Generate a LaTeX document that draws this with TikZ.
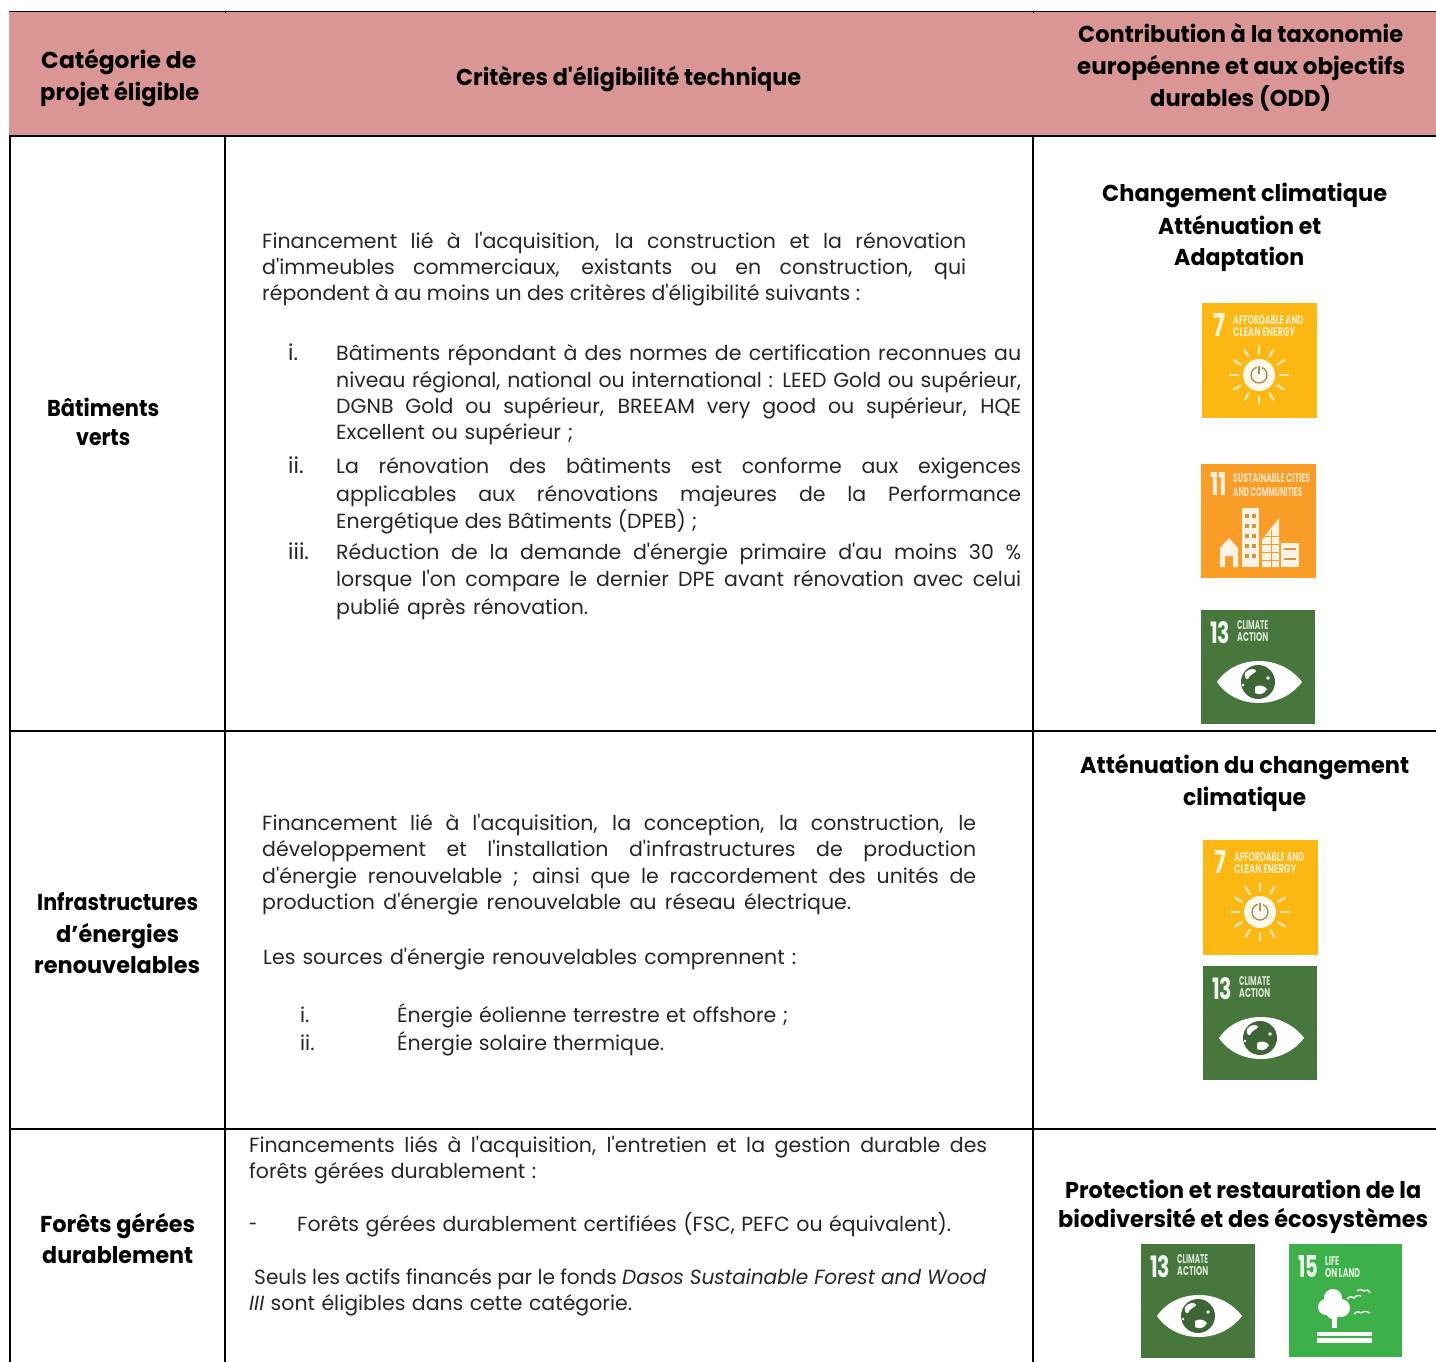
\documentclass[tikz,border=0pt]{standalone}
\usepackage{fontspec}
\usepackage{graphicx}
\defaultfontfeatures[\rmfamily]{}
\setmainfont{Poppins}
\definecolor{headfill}{HTML}{D99694}
\definecolor{bodycol}{HTML}{262626}
\definecolor{sdgseven}{HTML}{FDB713}
\definecolor{sdgeleven}{HTML}{F99D26}
\definecolor{sdgthirteen}{HTML}{48773E}
\definecolor{sdgfifteen}{HTML}{3EB049}
\newsavebox\fitb
\newcounter{tn}
\newcommand\bodyfont{\fontsize{20.5}{24}\selectfont}
\newcommand\headfont{\fontsize{23}{28}\selectfont\bfseries}
\newcommand\markfont{\fontsize{22}{24}\selectfont}
% justified (or squeezed) line of given width
\newcommand\justw[2]{\pgfmathsetmacro\fw{#1}\sbox\fitb{#2}\ifdim\wd\fitb>\fw pt\relax\pgfmathsetmacro\fr{\fw/\the\wd\fitb}\scalebox{\fr}[1]{\usebox\fitb}\else\makebox[\fw pt][s]{#2}\fi}
% scaled line of given width
\newcommand\scalew[2]{\pgfmathsetmacro\fw{#1}\sbox\fitb{#2}\pgfmathsetmacro\fr{\fw/\the\wd\fitb}\scalebox{\fr}[1]{\usebox\fitb}}
\newcommand\bl[4]{\stepcounter{tn}\node[bodytext] (t\arabic{tn}) at (#1,#3+1) {\justw{#2-#1}{#4}};}
\newcommand\hl[4]{\stepcounter{tn}\node[headtext] (t\arabic{tn}) at (#1,#3) {\scalew{#2-#1}{#4}};}
\newcommand\ict[5]{\stepcounter{tn}\node[icontext] (t\arabic{tn}) at (#1,#2) {\resizebox{#3pt}{#4pt}{#5}};}
\tikzset{
  bodytext/.style={anchor=base west,inner sep=0pt,font=\bodyfont,text=bodycol},
  headtext/.style={anchor=base west,inner sep=0pt,font=\headfont,text=black},
  icontext/.style={anchor=base west,inner sep=0pt,font=\bfseries,text=white},
  rule/.style={draw=black,line width=2pt},
  thinrule/.style={draw=black,line width=1pt},
}
\newcommand\sdgSeven[2]{\begin{scope}[shift={(#1,#2)}]
  \fill[sdgseven] (0,0) rectangle (115,115);
  \ict{11}{33}{12}{23}{\textcolor{white!85!sdgseven}{7}}
  \ict{31}{21}{70}{9}{\textcolor{white!75!sdgseven}{AFFORDABLE AND}}
  \ict{31}{33}{62}{9}{\textcolor{white!75!sdgseven}{CLEAN ENERGY}}
  \fill[white!92!sdgseven] (57,72) circle (16);
  \draw[gray!70!sdgseven,line width=1.4pt] (57,72) circle (8);
  \fill[white!92!sdgseven] (54.5,62) rectangle (59.5,70);
  \draw[gray!70!sdgseven,line width=1.2pt] (57,63) -- (57,71);
  \foreach \a in {0,30,...,330}{\draw[white!70!sdgseven,line width=2.2pt,line cap=round] (57,72) ++(\a:21) -- ++(\a:8);}
\end{scope}}
\newcommand\sdgEleven[2]{\begin{scope}[shift={(#1,#2)}]
  \fill[sdgeleven] (0,0) rectangle (115,114);
  \ict{9}{31}{17}{23}{\textcolor{white!85!sdgeleven}{11}}
  \ict{32}{18}{77}{9}{\textcolor{white!70!sdgeleven}{SUSTAINABLE CITIES}}
  \ict{32}{32}{69}{9}{\textcolor{white!70!sdgeleven}{AND COMMUNITIES}}
  \fill[white!88!sdgeleven] (19,103) -- (19,84) -- (28,74) -- (37,84) -- (37,103) -- (32,103) -- (32,92) -- (24,92) -- (24,103) -- cycle;
  \fill[white!88!sdgeleven] (41,44) rectangle (58,103);
  \fill[white!88!sdgeleven] (61,103) -- (61,76) -- (78,54) -- (78,103) -- cycle;
  \fill[white!88!sdgeleven] (80,79) rectangle (98,103);
  \foreach \yy in {50,60,70,80,90}{\fill[sdgeleven!70!gray] (44,\yy) rectangle +(4,4);\fill[sdgeleven!70!gray] (51,\yy) rectangle +(4,4);}
  \foreach \yy in {72,80,88,96}{\draw[sdgeleven,line width=1pt] (61,\yy) -- (78,\yy);}
  \draw[sdgeleven,line width=1pt] (70,66) -- (70,103);
  \foreach \yy in {85,95}{\draw[sdgeleven!70!gray,line width=2.5pt] (83,\yy) -- (95,\yy);}
\end{scope}}
\newcommand\sdgThirteen[2]{\begin{scope}[shift={(#1,#2)}]
  \fill[sdgthirteen] (0,0) rectangle (114,114);
  \ict{9}{33}{20}{22}{\textcolor{white!92!sdgthirteen}{13}}
  \ict{36}{19}{31}{9}{\textcolor{white!80!sdgthirteen}{CLIMATE}}
  \ict{36}{31}{31}{9}{\textcolor{white!80!sdgthirteen}{ACTION}}
  \fill[white] (16,72) .. controls (35,44) and (80,44) .. (101,72) .. controls (80,100) and (35,100) .. cycle;
  \fill[sdgthirteen!85!black] (57,72) circle (17);
  \fill[white] (44,63) .. controls (48,58) and (54,58) .. (55,61) .. controls (53,64) and (49,64) .. (47,69) .. controls (45,70) and (43,67) .. cycle;
  \fill[white] (54,77) .. controls (58,74) and (64,76) .. (66,79) .. controls (63,85) and (58,85) .. (54,83) -- cycle;
  \fill[white] (67,68) circle (1.8);
  \fill[white] (42,75) circle (1.3);
\end{scope}}
\newcommand\sdgFifteen[2]{\begin{scope}[shift={(#1,#2)}]
  \fill[sdgfifteen] (0,0) rectangle (113,113);
  \ict{9}{33}{20}{22}{\textcolor{white!92!sdgfifteen}{15}}
  \ict{36}{21}{14}{9}{\textcolor{white!85!sdgfifteen}{LIFE}}
  \ict{36}{33}{35}{9}{\textcolor{white!85!sdgfifteen}{ON LAND}}
  \fill[white] (43,84) rectangle (48,70);
  \fill[white] (44,54) circle (9);
  \fill[white] (37,63) circle (8);
  \fill[white] (52,64) circle (9);
  \fill[white] (44,68) circle (7);
  \fill[white] (28,88) rectangle (83,92);
  \fill[white] (28,94) rectangle (83,99);
  \draw[white,line width=1.3pt] (58,55) .. controls (61,52) and (63,52) .. (65,54) .. controls (67,51) and (70,51) .. (72,52);
  \draw[white,line width=1.3pt] (68,47) .. controls (71,45) and (73,45) .. (75,47) .. controls (77,45) and (80,46) .. (81,49);
  \draw[white,line width=1.3pt] (65,70) .. controls (68,67) and (70,67) .. (72,69) .. controls (74,67) and (78,67) .. (81,69);
\end{scope}}
\begin{document}
\begin{tikzpicture}[x=1pt,y=-1pt]
\useasboundingbox (0,0) rectangle (1436,1362);
\begin{scope}
\clip (0,0) rectangle (1436,1362);
% header band and table rules
\fill[headfill] (9,12) rectangle (1436,135);
\draw[thinrule] (9,11.5) -- (1436,11.5);
\draw[thinrule] (225,12) -- (225,13.5);
\draw[thinrule] (1033,12) -- (1033,13.5);
\draw[rule] (9,136) -- (1436,136);
\draw[rule] (9,731) -- (1436,731);
\draw[rule] (9,1129) -- (1436,1129);
\draw[rule] (10,135) -- (10,1362);
\draw[rule] (225,135) -- (225,1362);
\draw[rule] (1033,135) -- (1033,1362);
% icons
\sdgSeven{1202}{303}
\sdgEleven{1201}{464}
\sdgThirteen{1201}{610}
\sdgSeven{1203}{840}
\sdgThirteen{1203}{966}
\sdgThirteen{1141}{1244}
\sdgFifteen{1289}{1244}
\end{scope}
% header
\hl{41}{196}{69}{Catégorie de}
\hl{40}{199}{101}{projet éligible}
\hl{456}{801}{86}{Critères d'éligibilité technique}
\hl{1078}{1403}{43}{Contribution à la taxonomie}
\hl{1077}{1405}{75}{européenne et aux objectifs}
\hl{1150}{1331}{107}{durables (ODD)}
% column one
\hl{47}{159}{416}{Bâtiments}
\hl{76}{130}{445}{verts}
\hl{37}{198}{910}{Infrastructures}
\hl{56}{179}{942}{d’énergies}
\hl{34}{200}{973}{renouvelables}
\hl{40}{195}{1232}{Forêts gérées}
\hl{42}{193}{1263}{durablement}
% column three
\hl{1102}{1387}{201}{Changement climatique}
\hl{1158}{1321}{234}{Atténuation et}
\hl{1174}{1304}{265}{Adaptation}
\hl{1080}{1409}{773}{Atténuation du changement}
\hl{1183}{1306}{805}{climatique}
\hl{1065}{1421}{1198}{Protection et restauration de la}
\hl{1058}{1428}{1227}{biodiversité et des écosystèmes}
% row one
\bl{262}{966}{247}{Financement lié à l'acquisition, la construction et la rénovation}
\bl{262}{966}{273}{d'immeubles commerciaux, existants ou en construction, qui}
\bl{262}{860}{299}{répondent à au moins un des critères d'éligibilité suivants :}
\bl{288}{300}{359}{\markfont i.}
\bl{336}{1021}{359}{Bâtiments répondant à des normes de certification reconnues au}
\bl{336}{1021}{386}{niveau régional, national ou international : LEED Gold ou supérieur,}
\bl{336}{1021}{412}{DGNB Gold ou supérieur, BREEAM very good ou supérieur, HQE}
\bl{336}{573}{438}{Excellent ou supérieur ;}
\bl{288}{306}{472}{\markfont ii.}
\bl{336}{1021}{472}{La rénovation des bâtiments est conforme aux exigences}
\bl{336}{1021}{500}{applicables aux rénovations majeures de la Performance}
\bl{336}{697}{527}{Energétique des Bâtiments (DPEB) ;}
\bl{288}{312}{558}{\markfont iii.}
\bl{336}{1021}{558}{Réduction de la demande d'énergie primaire d'au moins 30 \%}
\bl{336}{1021}{585}{lorsque l'on compare le dernier DPE avant rénovation avec celui}
\bl{336}{588}{613}{publié après rénovation.}
% row two
\bl{262}{976}{829}{Financement lié à l'acquisition, la conception, la construction, le}
\bl{262}{976}{855}{développement et l'installation d'infrastructures de production}
\bl{262}{976}{882}{d'énergie renouvelable ; ainsi que le raccordement des unités de}
\bl{262}{851}{908}{production d'énergie renouvelable au réseau électrique.}
\bl{263}{796}{963}{Les sources d'énergie renouvelables comprennent :}
\bl{300}{311}{1021}{i.}
\bl{397}{788}{1021}{Énergie éolienne terrestre et offshore ;}
\bl{300}{315}{1049}{ii.}
\bl{397}{664}{1049}{Énergie solaire thermique.}
% row three
\bl{249}{987}{1151}{Financements liés à l'acquisition, l'entretien et la gestion durable des}
\bl{249}{536}{1177}{forêts gérées durablement :}
\bl{249}{257}{1230}{-}
\bl{297}{951}{1230}{Forêts gérées durablement certifiées (FSC, PEFC ou équivalent).}
\bl{254}{986}{1283}{Seuls les actifs financés par le fonds \textit{Dasos Sustainable Forest and Wood}}
\bl{249}{632}{1309}{\textit{III} sont éligibles dans cette catégorie.}
\end{tikzpicture}
\end{document}
